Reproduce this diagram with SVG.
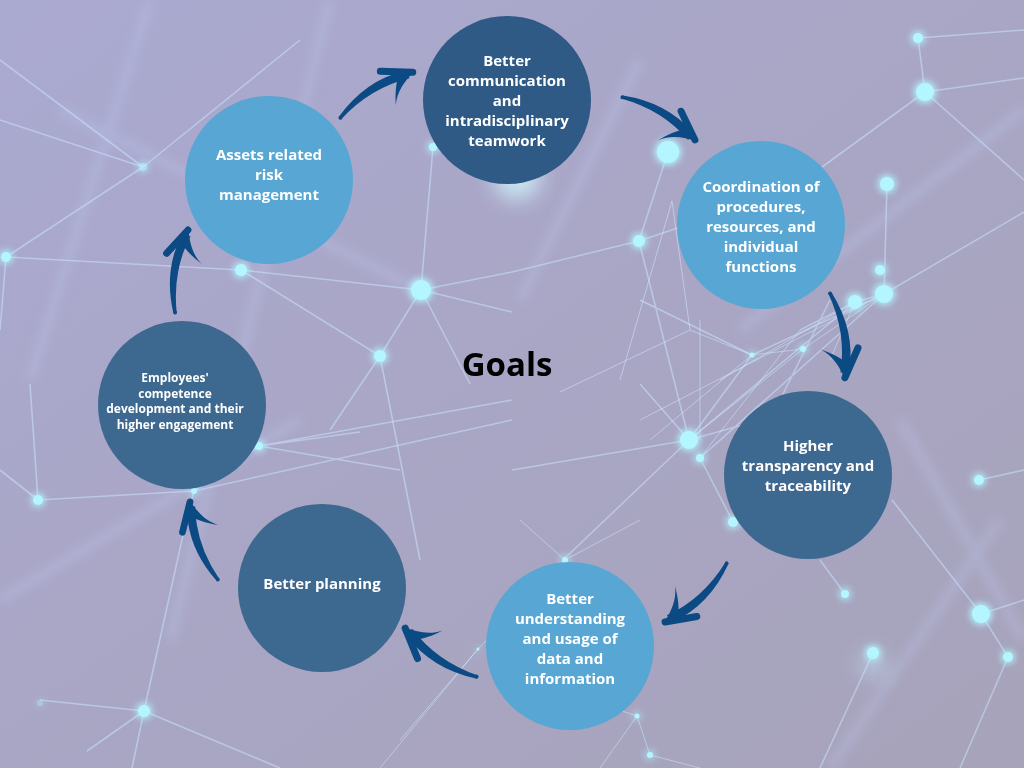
<svg xmlns="http://www.w3.org/2000/svg" xmlns:xlink="http://www.w3.org/1999/xlink" width="1024" height="768" viewBox="0 0 1024 768">
<defs>
  <linearGradient id="bg" x1="0" y1="0" x2="1" y2="1">
    <stop offset="0" stop-color="#aaa9d0"/>
    <stop offset="0.5" stop-color="#a9a6c5"/>
    <stop offset="1" stop-color="#a7a3ba"/>
  </linearGradient>
  <filter id="glow" x="-2" y="-2" width="5" height="5">
    <feGaussianBlur in="SourceGraphic" stdDeviation="4" result="b"/>
    <feMerge><feMergeNode in="b"/><feMergeNode in="b"/><feMergeNode in="SourceGraphic"/></feMerge>
  </filter>
  <filter id="wblur" x="-0.3" y="-0.3" width="1.6" height="1.6">
    <feGaussianBlur stdDeviation="5"/>
  </filter>
  <filter id="bblur" x="-1" y="-1" width="3" height="3">
    <feGaussianBlur stdDeviation="10"/>
  </filter>
  <filter id="lblur" x="-0.2" y="-0.2" width="1.4" height="1.4">
    <feGaussianBlur stdDeviation="0.6"/>
  </filter>
  <g id="arw">
    <path d="M0,-1.8 Q42,-18.5 80,-5.5 L80,3.5 Q42,-9.5 0,1.8 Z" fill="#0b4a82"/>
    <circle cx="0.5" cy="0" r="2" fill="#0b4a82"/>
    <path d="M86,0 L59,-18" fill="none" stroke="#0b4a82" stroke-width="7" stroke-linecap="round"/>
    <path d="M88,0 C75,3 62,8 54,19 C60,8 65,2 70,-3 Z" fill="#0b4a82"/>
  </g>
  <style>
    .net { stroke:#c8e2ff; stroke-opacity:0.55; stroke-width:1.6; fill:none; }
    .thin { stroke:#cfe8ff; stroke-opacity:0.6; stroke-width:0.9; fill:none; }
    .wide { stroke:#bcc8f0; stroke-opacity:0.3; stroke-width:10; fill:none; }
    .dot { fill:#b4f6ff; filter:url(#glow); }
    .lbl { font-family:"Open Sans","Noto Sans","Liberation Sans",sans-serif; font-weight:700; fill:#ffffff; text-anchor:middle; }
    .t15 { font-size:15px; }
    .t12 { font-size:12px; }
    .goal { font-family:"Open Sans","Noto Sans","Liberation Sans",sans-serif; font-weight:700; font-size:33px; fill:#000000; text-anchor:middle; }
  </style>
</defs>

<rect x="0" y="0" width="1024" height="768" fill="url(#bg)"/>

<g id="background-soft" filter="url(#wblur)">
  <path class="wide" d="M150,0 L30,380 M330,0 L170,640 M640,60 L520,300 M1024,110 L740,330 M900,420 L1024,640 M1000,520 L830,768 M0,600 L300,420 M60,110 L420,290"/>
</g>
<g id="background-glow" filter="url(#bblur)">
  <circle cx="517" cy="176" r="24" fill="#d4f8ff" opacity="0.75"/>
  <circle cx="873" cy="665" r="14" fill="#c8f0ff" opacity="0.45"/>
</g>

<g id="background-network" filter="url(#lblur)">
  <path class="net" d="M6,257 L143,167 M6,257 L241,270 M241,270 L421,290 M421,290 L433,147 M421,290 L380,356 M421,290 L512,272 M421,290 L512,312 M241,270 L380,356 M143,167 L0,120 M143,167 L300,40 M380,356 L420,560 M380,356 L330,430 M421,290 L470,384 M0,60 L143,167 M6,257 L0,330 M433,147 L520,155"/>
  <path class="net" d="M668,152 L639,241 M639,241 L512,272 M639,241 L761,200 M639,241 L689,440 M925,92 L822,167 M925,92 L1024,78 M925,92 L1024,180 M918,38 L1024,30 M918,38 L925,92 M887,184 L884,294 M884,294 L1024,212 M884,294 L855,302 M855,302 L689,440 M884,294 L700,458 M884,294 L752,355 M855,302 L800,330 M689,440 L563,560 M689,440 L640,384 M689,440 L760,420 M700,458 L733,522 M512,470 L689,440 M752,355 L640,300 M752,355 L689,440 M830,300 L760,440"/>
  <path class="thin" d="M672,201 L690,330 L752,355 L803,349 L884,294 M690,330 L560,392 M672,201 L620,380 M855,302 L720,380 M884,294 L640,420 M803,349 L689,440 M752,355 L650,440 M800,330 L700,458 M855,302 L830,360 M700,320 L700,440"/>
  <path class="net" d="M892,500 L981,614 M981,614 L1008,657 M1008,657 L960,768 M979,480 L1024,470 M845,594 L820,560 M873,653 L820,768 M981,614 L1024,600"/>
  <path class="net" d="M38,500 L194,491 M38,500 L0,470 M38,500 L30,384 M194,491 L259,446 M259,446 L360,432 M259,446 L400,470 M259,446 L512,400 M194,491 L512,420 M144,711 L187,517 M144,711 L132,768 M144,711 L87,751 M144,711 L280,768 M144,711 L40,700 M187,517 L194,491"/>
  <path class="thin" d="M478,649 L400,740 M478,649 L565,560 M478,649 L380,768 M637,716 L650,755 M637,716 L600,768 M637,716 L560,690 M650,755 L700,768 M565,560 L520,520 M565,560 L640,520"/>
</g>

<g id="background-dots">
  <circle class="dot" cx="143" cy="167" r="4" opacity="0.7"/>
  <circle class="dot" cx="6" cy="257" r="5"/>
  <circle class="dot" cx="241" cy="270" r="6"/>
  <circle class="dot" cx="421" cy="290" r="10"/>
  <circle class="dot" cx="380" cy="356" r="6"/>
  <circle class="dot" cx="433" cy="147" r="4"/>
  <circle class="dot" cx="668" cy="152" r="11"/>
  <circle class="dot" cx="639" cy="241" r="6"/>
  <circle class="dot" cx="918" cy="38" r="5"/>
  <circle class="dot" cx="925" cy="92" r="9"/>
  <circle class="dot" cx="887" cy="184" r="7"/>
  <circle class="dot" cx="880" cy="270" r="5"/>
  <circle class="dot" cx="884" cy="294" r="9"/>
  <circle class="dot" cx="855" cy="302" r="7"/>
  <circle class="dot" cx="752" cy="355" r="2.5"/>
  <circle class="dot" cx="803" cy="349" r="3"/>
  <circle class="dot" cx="689" cy="440" r="9"/>
  <circle class="dot" cx="700" cy="458" r="4"/>
  <circle class="dot" cx="733" cy="522" r="5"/>
  <circle class="dot" cx="845" cy="594" r="4"/>
  <circle class="dot" cx="979" cy="480" r="5"/>
  <circle class="dot" cx="981" cy="614" r="9"/>
  <circle class="dot" cx="1008" cy="657" r="5"/>
  <circle class="dot" cx="873" cy="653" r="6"/>
  <circle class="dot" cx="38" cy="500" r="5"/>
  <circle class="dot" cx="144" cy="711" r="6"/>
  <circle class="dot" cx="637" cy="716" r="2.5"/>
  <circle class="dot" cx="650" cy="755" r="3"/>
  <circle class="dot" cx="194" cy="491" r="3"/>
  <circle class="dot" cx="259" cy="446" r="4"/>
  <circle class="dot" cx="40" cy="703" r="3" opacity="0.4"/>
  <circle class="dot" cx="478" cy="649" r="1.5"/>
  <circle class="dot" cx="565" cy="560" r="3"/>
</g>

<g id="connectors">
  <use href="#arw" xlink:href="#arw" transform="translate(340,118) rotate(-32.2) scale(1.0)"/>
  <use href="#arw" xlink:href="#arw" transform="translate(622,97) rotate(30.5) scale(0.985)"/>
  <use href="#arw" xlink:href="#arw" transform="translate(830,293) rotate(80) scale(1.0)"/>
  <use href="#arw" xlink:href="#arw" transform="translate(727,563) rotate(136.4) scale(0.995)"/>
  <use href="#arw" xlink:href="#arw" transform="translate(477,677) rotate(214.2) scale(1.01)"/>
  <use href="#arw" xlink:href="#arw" transform="translate(218,580) rotate(-109.7) scale(0.965)"/>
  <use href="#arw" xlink:href="#arw" transform="translate(175,313) rotate(-81.1) scale(0.977)"/>
</g>

<g id="node-communication">
  <circle cx="507" cy="100" r="84" fill="#2f5a86"/>
  <text class="lbl t15" x="507" y="66">Better</text>
  <text class="lbl t15" x="507" y="86">communication</text>
  <text class="lbl t15" x="507" y="106">and</text>
  <text class="lbl t15" x="507" y="126">intradisciplinary</text>
  <text class="lbl t15" x="507" y="146">teamwork</text>
</g>

<g id="node-coordination">
  <circle cx="761" cy="225" r="84" fill="#58a6d3"/>
  <text class="lbl t15" x="761" y="192">Coordination of</text>
  <text class="lbl t15" x="761" y="212">procedures,</text>
  <text class="lbl t15" x="761" y="232">resources, and</text>
  <text class="lbl t15" x="761" y="252">individual</text>
  <text class="lbl t15" x="761" y="272">functions</text>
</g>

<g id="node-transparency">
  <circle cx="808" cy="475" r="84" fill="#3d6890"/>
  <text class="lbl t15" x="808" y="451">Higher</text>
  <text class="lbl t15" x="808" y="471">transparency and</text>
  <text class="lbl t15" x="808" y="491">traceability</text>
</g>

<g id="node-data">
  <circle cx="570" cy="646" r="84" fill="#58a6d3"/>
  <text class="lbl t15" x="570" y="604">Better</text>
  <text class="lbl t15" x="570" y="624">understanding</text>
  <text class="lbl t15" x="570" y="644">and usage of</text>
  <text class="lbl t15" x="570" y="664">data and</text>
  <text class="lbl t15" x="570" y="684">information</text>
</g>

<g id="node-planning">
  <circle cx="322" cy="588" r="84" fill="#3d6890"/>
  <text class="lbl t15" x="322" y="589">Better planning</text>
</g>

<g id="node-employees">
  <circle cx="182" cy="405" r="84" fill="#3d6890"/>
  <text class="lbl t12" x="175" y="382">Employees'</text>
  <text class="lbl t12" x="175" y="398">competence</text>
  <text class="lbl t12" x="175" y="413">development and their</text>
  <text class="lbl t12" x="175" y="429">higher engagement</text>
</g>

<g id="node-assets">
  <circle cx="269" cy="180" r="84" fill="#58a6d3"/>
  <text class="lbl t15" x="269" y="160">Assets related</text>
  <text class="lbl t15" x="269" y="180">risk</text>
  <text class="lbl t15" x="269" y="200">management</text>
</g>

<g id="title">
  <text class="goal" x="507" y="376">Goals</text>
</g>
</svg>
